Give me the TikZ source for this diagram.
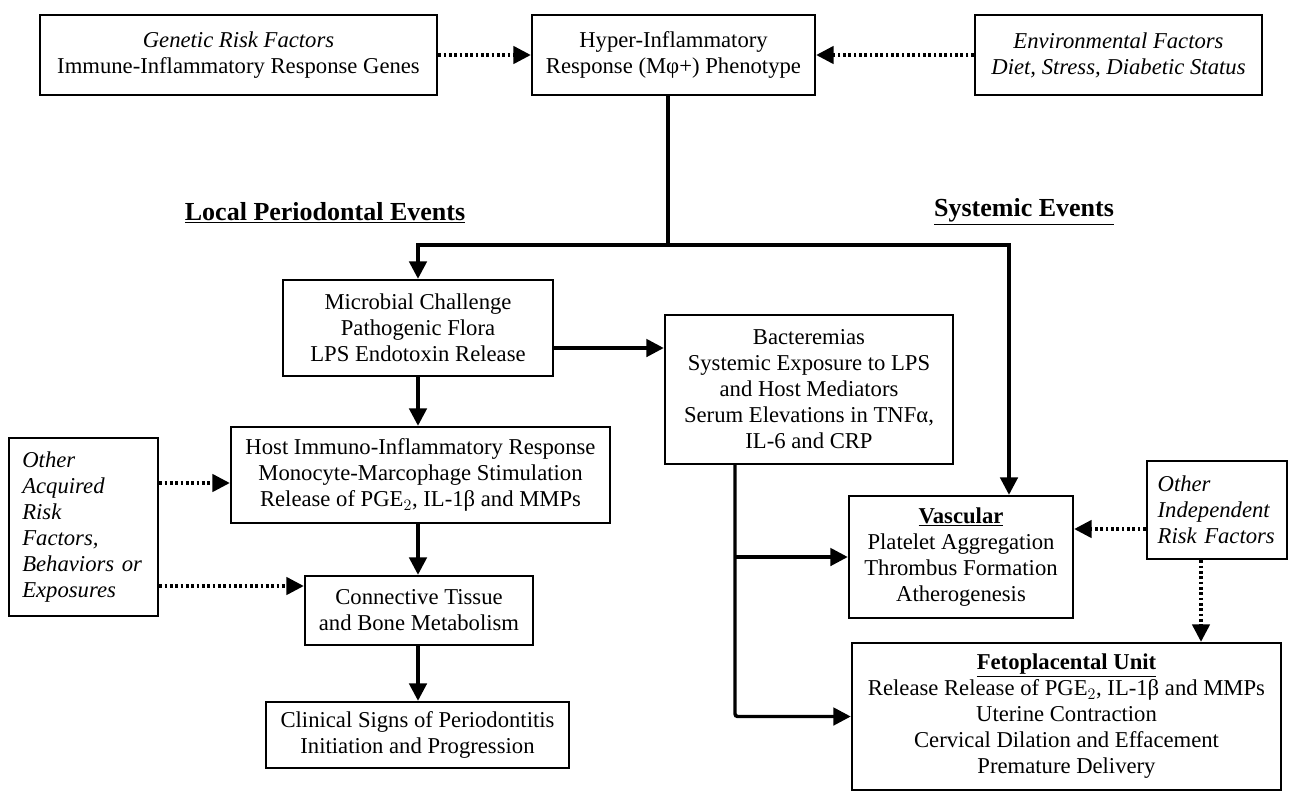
\documentclass[tikz,border=0pt]{standalone}
\usepackage{fontspec}
\setmainfont{Liberation Serif}
\usetikzlibrary{arrows.meta}

\tikzset{
  box/.style={draw, line width=1.8pt, align=center, inner sep=2pt, font=\fontsize{17}{19.5}\selectfont},
  flow/.style={line width=2.6pt, -{Triangle[length=13pt,width=13pt]}},
  riskflow/.style={line width=2.4pt, dash pattern=on 2pt off 2pt, -{Triangle[length=13pt,width=13pt]}},
  heading/.style={font=\fontsize{19.5}{22}\selectfont\bfseries},
}

\begin{document}
\begin{tikzpicture}[x=0.75pt,y=0.75pt,yscale=-1,xscale=1]
\useasboundingbox (0,0) rectangle (1289,794);

%Shape: Rectangle [top row]
\node[box, minimum width=297.75pt, minimum height=60pt] (gen) at (238.5,55) {\textit{Genetic Risk Factors}\\Immune-Inflammatory Response Genes};
\node[box, minimum width=212.25pt, minimum height=60pt] (hyp) at (673.5,55) {Hyper-Inflammatory\\Response (Mφ+) Phenotype};
\node[box, minimum width=215.25pt, minimum height=60pt] (env) at (1118.5,55) {\textit{Environmental Factors}\\\textit{Diet, Stress, Diabetic Status}};

% Text Node
\node[heading] (local) at (325,213) {\underline{Local Periodontal Events}};
% Text Node
\node[heading] (sys) at (1024,212) {\underline{Systemic Events}};

%Shape: Rectangle [local events]
\node[box, minimum width=202.5pt, minimum height=72pt] (micro) at (418,328) {Microbial Challenge\\Pathogenic Flora\\LPS Endotoxin Release};
\node[box, minimum width=284.25pt, minimum height=72pt] (host) at (420.5,475) {Host Immuno-Inflammatory Response\\Monocyte-Marcophage Stimulation\\Release of PGE$_2$, IL-1β and MMPs};
\node[box, align=left, inner xsep=10pt, text width=91.75pt, minimum height=133.5pt] (oacq) at (83.5,527) {\itshape Other\\Acquired\\Risk\\Factors,\\Behaviors or\\Exposures};
\node[box, minimum width=171pt, minimum height=51.75pt] (conn) at (419,610.5) {Connective Tissue\\and Bone Metabolism};
\node[box, minimum width=227.25pt, minimum height=49.5pt] (clin) at (417.5,735) {Clinical Signs of Periodontitis\\Initiation and Progression};

%Shape: Rectangle [systemic events]
\node[box, minimum width=216pt, minimum height=111.75pt] (bact) at (809,389.5) {Bacteremias\\Systemic Exposure to LPS\\and Host Mediators\\Serum Elevations in TNFα,\\IL-6 and CRP};
\node[box, minimum width=168pt, minimum height=91.5pt] (vasc) at (961,557) {\textbf{\underline{Vascular}}\\Platelet Aggregation\\Thrombus Formation\\Atherogenesis};
\node[box, align=left, inner xsep=8pt, text width=89pt, minimum height=73.5pt] (oind) at (1217,510) {\itshape Other\\Independent\\Risk Factors};
\node[box, minimum width=321.75pt, minimum height=110.25pt] (feto) at (1066.5,716.5) {\textbf{\underline{Fetoplacental Unit}}\\Release Release of PGE$_2$, IL-1β and MMPs\\Uterine Contraction\\Cervical Dilation and Effacement\\Premature Delivery};

\coordinate (split) at (668,245);
\coordinate (vdrop) at (1009,245);
\coordinate (tap) at (735,0);
\coordinate (ind) at (1201,0);
\coordinate (spine) at (418,0);

%Straight Lines [dotted risk arrows]
\draw[riskflow] (gen) -- (hyp);
\draw[riskflow] (env) -- (hyp);
\draw[riskflow] (oacq.east |- 0,483) -- (host.west |- 0,483);
\draw[riskflow] (oacq.east |- 0,586) -- (conn.west |- 0,586);
\draw[riskflow] (oind.west |- 0,529) -- (vasc.east |- 0,529);
\draw[riskflow] (oind.south -| ind) -- (feto.north -| ind);

%Straight Lines [solid flow]
\draw[line width=2.6pt] (split |- hyp.south) -- (split);
\draw[flow] (split) -| (micro.north -| spine);
\draw[flow] (split) -- (vdrop) -- (vdrop |- vasc.north);
\draw[flow] (micro.east |- 0,348) -- (bact.west |- 0,348);
\draw[flow] (micro.south -| spine) -- (host.north -| spine);
\draw[flow] (host.south -| spine) -- (conn.north -| spine);
\draw[flow] (conn.south -| spine) -- (clin.north -| spine);
\draw[flow, rounded corners=2pt] (bact.south -| tap) |- (feto.west);
\draw[flow] (tap |- vasc.west) -- (vasc.west);

\end{tikzpicture}
\end{document}
